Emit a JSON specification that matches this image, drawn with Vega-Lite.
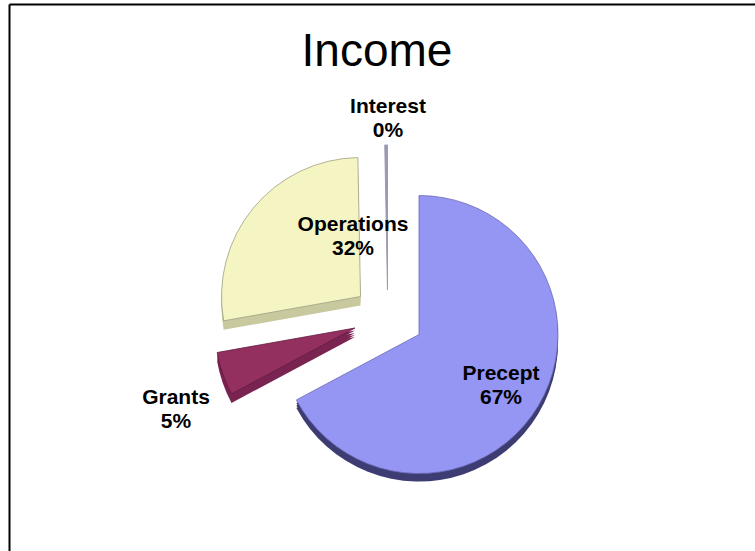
{
"$schema":"https://vega.github.io/schema/vega-lite/v6.json",
"width":746,"height":547,
"autosize":{"type":"none"},
"padding":{"left":9,"top":4,"right":0,"bottom":0},
"background":"white",
"config":{"view":{"stroke":null}},
"title":{"text":"Income","font":"Liberation Sans","fontSize":46,"fontWeight":"normal","color":"#000","anchor":"middle","frame":"group","baseline":"alphabetic","offset":-108,"dx":-5},
"data":{"values":[
{"source":"Precept","value":67.2,"label":"Precept\n67%"},
{"source":"Grants","value":5,"label":"Grants\n5%"},
{"source":"Operations","value":27.5,"label":"Operations\n32%"},
{"source":"Interest","value":0.3,"label":"Interest\n0%"}
]},
"transform":[{"stack":"value","groupby":[],"as":["start","end"]}],
"encoding":{
"theta":{"field":"start","type":"quantitative","scale":{"domain":[0,100],"range":[0,6.28318]}},
"theta2":{"field":"end"}
},
"layer":[
{"mark":{"type":"point","opacity":0},
 "encoding":{"theta":null,"theta2":null,
 "x":{"field":"value","type":"quantitative","scale":{"domain":[0,100],"nice":false},"axis":{"orient":"top","title":null,"labels":false,"ticks":false,"grid":false,"domainColor":"#000","domainWidth":2}},
 "y":{"field":"value","type":"quantitative","scale":{"domain":[0,100],"nice":false},"axis":{"orient":"left","title":null,"labels":false,"ticks":false,"grid":false,"domainColor":"#000","domainWidth":2}}}},
{"transform":[{"filter":"datum.source==='Operations'"}],"layer":[
 {"mark":{"type":"arc","outerRadius":139,"fill":"#c9c99f","xOffset":-21.5,"yOffset":28}},
 {"mark":{"type":"arc","outerRadius":139,"fill":"#c9c99f","xOffset":-21.5,"yOffset":25}},
 {"mark":{"type":"arc","outerRadius":139,"fill":"#c9c99f","xOffset":-21.5,"yOffset":22}},
 {"mark":{"type":"arc","outerRadius":139,"fill":"#f5f5c4","stroke":"#9f9f85","strokeWidth":0.8,"xOffset":-21.5,"yOffset":19}}
]},
{"transform":[{"filter":"datum.source==='Grants'"}],"layer":[
 {"mark":{"type":"arc","outerRadius":140,"fill":"#7a2452","xOffset":-27,"yOffset":59.5}},
 {"mark":{"type":"arc","outerRadius":140,"fill":"#7a2452","xOffset":-27,"yOffset":57.5}},
 {"mark":{"type":"arc","outerRadius":140,"fill":"#7a2452","xOffset":-27,"yOffset":55.5}},
 {"mark":{"type":"arc","outerRadius":140,"fill":"#7a2452","xOffset":-27,"yOffset":53}},
 {"mark":{"type":"arc","outerRadius":140,"fill":"#93305f","stroke":"#5f1c40","strokeWidth":0.8,"xOffset":-27,"yOffset":50.5}}
]},
{"transform":[{"filter":"datum.source==='Interest'"}],"layer":[
 {"mark":{"type":"arc","outerRadius":145,"fill":"#9a9ab5","stroke":"#9a9ab5","strokeWidth":1,"xOffset":5.5,"yOffset":12.5}}
]},
{"transform":[{"filter":"datum.source==='Precept'"}],"layer":[
 {"mark":{"type":"arc","outerRadius":139,"fill":"#3d3d73","xOffset":37,"yOffset":65}},
 {"mark":{"type":"arc","outerRadius":139,"fill":"#3d3d73","xOffset":37,"yOffset":62.5}},
 {"mark":{"type":"arc","outerRadius":139,"fill":"#3d3d73","xOffset":37,"yOffset":60}},
 {"mark":{"type":"arc","outerRadius":139,"fill":"#9595f3","stroke":"#6a6ab5","strokeWidth":0.8,"xOffset":37,"yOffset":57}}
]},
{"transform":[{"filter":"datum.source==='Operations'"}],"mark":{"type":"text","font":"Liberation Sans","fontWeight":"bold","fontSize":21,"lineBreak":"\n","lineHeight":24,"align":"center","baseline":"middle","color":"#000","xOffset":-29,"yOffset":-53},"encoding":{"theta":null,"theta2":null,"text":{"field":"label"}}},
{"transform":[{"filter":"datum.source==='Grants'"}],"mark":{"type":"text","font":"Liberation Sans","fontWeight":"bold","fontSize":21,"lineBreak":"\n","lineHeight":24,"align":"center","baseline":"middle","color":"#000","xOffset":-206,"yOffset":120},"encoding":{"theta":null,"theta2":null,"text":{"field":"label"}}},
{"transform":[{"filter":"datum.source==='Interest'"}],"mark":{"type":"text","font":"Liberation Sans","fontWeight":"bold","fontSize":21,"lineBreak":"\n","lineHeight":24,"align":"center","baseline":"middle","color":"#000","xOffset":6,"yOffset":-170.5},"encoding":{"theta":null,"theta2":null,"text":{"field":"label"}}},
{"transform":[{"filter":"datum.source==='Precept'"}],"mark":{"type":"text","font":"Liberation Sans","fontWeight":"bold","fontSize":21,"lineBreak":"\n","lineHeight":24,"align":"center","baseline":"middle","color":"#000","xOffset":119,"yOffset":96},"encoding":{"theta":null,"theta2":null,"text":{"field":"label"}}}
]
}
